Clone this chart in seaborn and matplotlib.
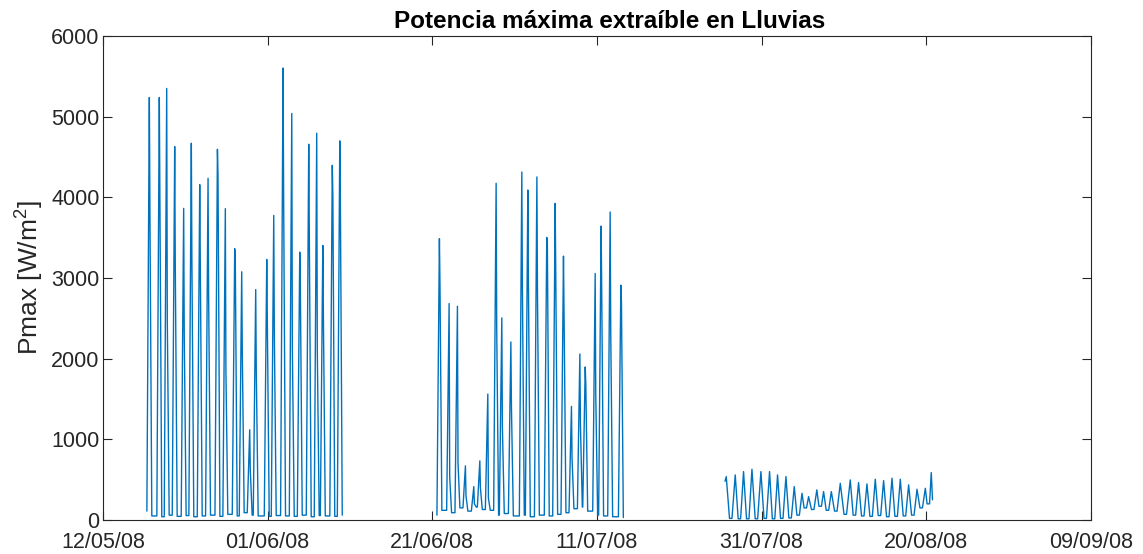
import numpy as np
import pandas as pd
import seaborn as sns
import matplotlib.pyplot as plt
import matplotlib.dates as mdates
from matplotlib import font_manager

start = pd.Timestamp('2008-05-12')

# tramo 1 (mayo-junio): dia del pico (dias desde 12/05/08), pico, hombro, nivel nocturno
s1_day = [5.63, 6.84, 7.74, 8.71, 9.80, 10.73, 11.75, 12.76, 13.90, 14.86, 16.00, 16.85,
          17.82, 18.55, 19.89, 20.74, 21.87, 22.93, 23.90, 24.99, 25.96, 26.70, 27.85, 28.76]
s1_peak = [5238, 5238, 5350, 4630, 3863, 4671, 4157, 4236, 4596, 3860, 3363, 3077,
           1118, 2857, 3230, 3776, 5603, 5040, 3321, 4658, 4795, 3404, 4397, 4700]
s1_shoulder = [3842, 4037, 2480, 3168, 2277, 3205, 3180, 2795, 4277, 1863, 3230, 2078,
               620, 1826, 2472, 2323, 4025, 2124, 2919, 3540, 2091, 2526, 4017, 4012]
s1_night = [110, 50, 40, 60, 45, 55, 40, 50, 60, 45, 70, 50, 90,
            60, 50, 45, 55, 50, 45, 60, 40, 55, 50, 45, 60]

# tramo 2 (junio-julio)
s2_day = [40.86, 42.04, 43.05, 44.02, 45.04, 45.77, 46.74, 47.75, 48.44, 49.54, 50.87, 51.60,
          52.70, 53.90, 54.92, 55.93, 56.90, 57.92, 58.57, 59.78, 60.50, 61.60, 62.90]
s2_peak = [3487, 2683, 2650, 671, 414, 733, 1561, 4174, 2505, 2207, 4314, 4091,
           4253, 3503, 3925, 3271, 1408, 2058, 1897, 3056, 3644, 3818, 2911]
s2_shoulder = [2907, 538, 708, 300, 200, 400, 273, 2381, 1159, 1404, 2894, 2960,
               2845, 3445, 3090, 2547, 770, 1180, 1690, 1565, 2882, 2323, 2704]
s2_night = [60, 120, 90, 150, 110, 160, 130, 120, 60, 80, 50, 60,
            40, 60, 50, 70, 90, 140, 160, 110, 60, 50, 40, 30]

# tramo 3 (julio-agosto): ciclo diario suave, picos y valles
s3_day = [75.70, 76.79, 77.80, 78.82, 79.91, 80.96, 81.93, 82.95, 83.96, 84.90, 85.70, 86.70, 87.52,
          88.46, 89.55, 90.76, 91.77, 92.79, 93.80, 94.81, 95.83, 96.84, 97.85, 98.87, 99.88, 100.60]
s3_peak = [538, 559, 600, 629, 600, 600, 559, 538, 414, 331, 290, 373, 352,
           352, 455, 497, 464, 447, 505, 488, 518, 505, 435, 381, 393, 588]
s3_low = [480, 20, 15, 15, 15, 20, 15, 20, 25, 60, 150, 130, 170, 120,
          110, 70, 60, 50, 45, 55, 40, 45, 50, 60, 150, 200, 250]


def spikes(days, peaks, shoulders, nights):
    t, p = [], []
    for i, d in enumerate(days):
        t += [d - 0.3, d, d + 0.07, d + 0.3]
        p += [nights[i], peaks[i], shoulders[i], nights[i + 1]]
    return t, p


def waves(days, peaks, lows):
    # valle plano entre picos (noche)
    t, p = [days[0] - 0.15], [lows[0]]
    for i, d in enumerate(days):
        t.append(d)
        p.append(peaks[i])
        if i < len(days) - 1:
            mid = (d + days[i + 1]) / 2
            t += [mid - 0.15, mid + 0.15]
            p += [lows[i + 1], lows[i + 1]]
    t.append(days[-1] + 0.15)
    p.append(lows[-1])
    return t, p


frames = []
for k, (t, p) in enumerate([spikes(s1_day, s1_peak, s1_shoulder, s1_night),
                            spikes(s2_day, s2_peak, s2_shoulder, s2_night),
                            waves(s3_day, s3_peak, s3_low)]):
    frames.append(pd.DataFrame({'fecha': start + pd.to_timedelta(t, unit='D'),
                                'pmax': p, 'tramo': k}))
df = pd.concat(frames, ignore_index=True)

sns.set_style('ticks', {'xtick.direction': 'in', 'ytick.direction': 'in'})
plt.rcParams['font.family'] = ['Liberation Sans', 'DejaVu Sans']
plt.rcParams['mathtext.fontset'] = 'custom'
plt.rcParams['mathtext.rm'] = 'Liberation Sans'
plt.rcParams['mathtext.default'] = 'regular'

# negrita normal (no la "Narrow") para el titulo
bold_file = None
for f in font_manager.fontManager.ttflist:
    if f.name == 'Liberation Sans' and f.weight == 700 and 'Narrow' not in f.fname \
            and f.style == 'normal':
        bold_file = f.fname
title_font = font_manager.FontProperties(fname=bold_file, size=17.5) if bold_file \
    else font_manager.FontProperties(family='Liberation Sans', weight='bold', size=17.5)

fig, ax = plt.subplots(figsize=(11.43, 5.54), dpi=100)
fig.subplots_adjust(left=0.0901, right=0.9545, top=0.935, bottom=0.0614)

sns.lineplot(data=df, x='fecha', y='pmax', units='tramo', estimator=None,
             color='#0072BD', lw=1.0, ax=ax)

ax.set_xlim(start, start + pd.Timedelta(days=120))
ax.set_xticks(pd.date_range(start, periods=7, freq='20D'))
ax.xaxis.set_major_formatter(mdates.DateFormatter('%d/%m/%y'))
ax.set_ylim(0, 6000)
ax.set_yticks(np.arange(0, 6001, 1000))

ax.tick_params(top=True, right=True, length=6.5, width=0.8, colors='#262626', labelsize=15.5)
ax.tick_params(axis='x', pad=8.5)
ax.tick_params(axis='y', pad=2.5)
for s in ax.spines.values():
    s.set_color('#262626')
    s.set_linewidth(0.8)

ax.set_xlabel('')
ax.set_ylabel('Pmax [W/m$^2$]', fontsize=19, color='#262626', labelpad=4)
ax.set_title('Potencia máxima extraíble en Lluvias', fontproperties=title_font,
             color='black', pad=6, x=0.513)

fig.savefig('out.png', dpi=100)
